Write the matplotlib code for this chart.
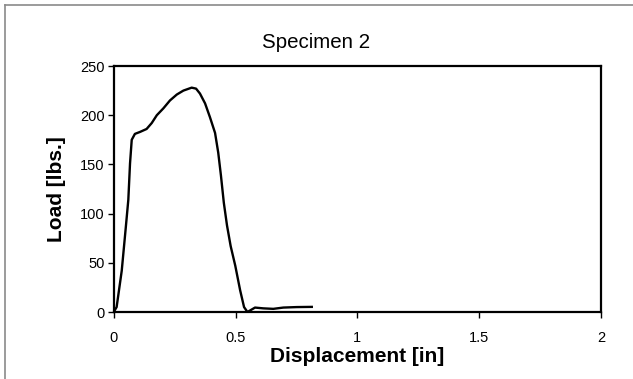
import numpy as np
import matplotlib
matplotlib.use('Agg')
import matplotlib.pyplot as plt
from matplotlib.lines import Line2D

# values
displacement = [0, 0.012, 0.033, 0.050, 0.060, 0.067, 0.074, 0.087, 0.108, 0.135,
                0.156, 0.177, 0.204, 0.231, 0.259, 0.286, 0.320, 0.338, 0.354, 0.375,
                0.395, 0.416, 0.429, 0.440, 0.452, 0.465, 0.480, 0.499, 0.519, 0.535,
                0.549, 0.580, 0.614, 0.655, 0.696, 0.751, 0.813]
load = [0, 5, 42, 87, 114, 151, 175, 181, 183, 186,
        192, 200, 207, 215, 221, 225, 228, 227, 222, 212,
        198, 182, 162, 139, 111, 88, 67, 47, 22, 5,
        0, 4.5, 3.7, 3.2, 4.5, 5, 5.2]

x_ticks = [0, 0.5, 1, 1.5, 2]
x_tick_labels = ['0', '0.5', '1', '1.5', '2']
y_ticks = [0, 50, 100, 150, 200, 250]

title = 'Specimen 2'
x_label = 'Displacement [in]'
y_label = 'Load [lbs.]'

plt.rcParams['font.family'] = ['Liberation Sans', 'DejaVu Sans']

W, H = 633, 379
fig = plt.figure(figsize=(W / 100, H / 100), dpi=100)
fig.patch.set_facecolor('white')

# axes box in pixel terms of the original
left, right, top, bottom = 113.7, 601.0, 66.0, 312.0
ax = fig.add_axes([left / W, (H - bottom) / H, (right - left) / W, (bottom - top) / H])

ax.plot(displacement, load, color='black', lw=1.7, solid_joinstyle='round')
ax.set_xlim(0, 2)
ax.set_ylim(0, 250)
ax.set_xticks(x_ticks)
ax.set_xticklabels(x_tick_labels)
ax.set_yticks(y_ticks)

for sp in ax.spines.values():
    sp.set_linewidth(1.6)
    sp.set_color('black')

ax.tick_params(axis='both', direction='out', length=4.5, width=1, labelsize=10.5, colors='black')
ax.tick_params(axis='x', pad=9)
ax.tick_params(axis='y', pad=2)

# title and axis labels placed on the figure
fig.text(0.5, (H - 48) / H, title, ha='center', va='baseline', fontsize=14.8)
fig.text((left + right) / 2 / W, (H - 362) / H, x_label, ha='center', va='baseline',
         fontsize=15, fontweight='bold')
fig.text(56 / W, (H - (top + bottom) / 2) / H, y_label, ha='center', va='center',
         rotation=90, fontsize=15, fontweight='bold')

# faint border of the scanned chart area (left and top only)
fig.add_artist(Line2D([4.5 / W, 4.5 / W], [0, (H - 5) / H], transform=fig.transFigure,
                      color='#8a8a8a', lw=1.2))
fig.add_artist(Line2D([4.5 / W, 1], [(H - 5) / H, (H - 5) / H], transform=fig.transFigure,
                      color='#8a8a8a', lw=1.2))

fig.savefig('out.png', dpi=100)
